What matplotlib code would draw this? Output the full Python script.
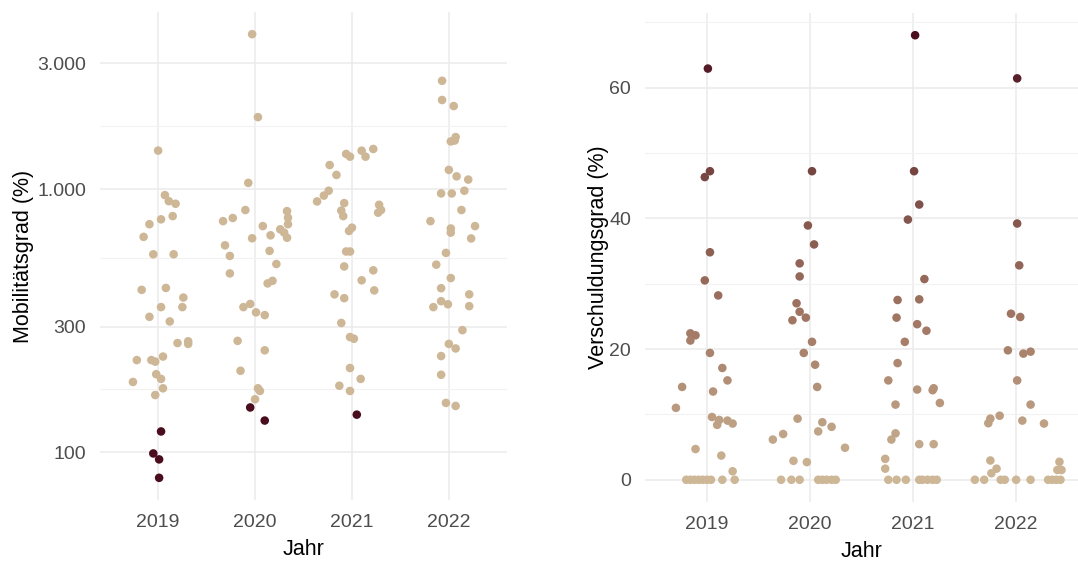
import matplotlib
matplotlib.use("Agg")
import matplotlib.pyplot as plt
import numpy as np
from matplotlib.colors import LinearSegmentedColormap
from matplotlib.ticker import FixedLocator, FuncFormatter

plt.rcParams['font.family'] = ['Liberation Sans', 'DejaVu Sans']

years = [2019, 2020, 2021, 2022]

# Mobilitätsgrad (%) per year: jitter offset, value
mob_2019_dx = [0.00, 0.07, 0.11, 0.18, 0.03, 0.15, -0.09, -0.15, -0.05, 0.16,
               -0.17, 0.08, 0.26, 0.03, 0.25, -0.09, 0.12, 0.20, 0.31, 0.31,
               -0.22, -0.07, -0.03, 0.05, -0.26, -0.02, 0.03, 0.05, -0.03,
               0.03, -0.05, 0.01, 0.01]
mob_2019 = [1399, 948, 899, 879, 767, 789, 735, 658, 565, 565,
            414, 421, 387, 356, 356, 327, 314, 260, 264, 258,
            224, 224, 221, 231, 185, 198, 190, 175, 165,
            120, 99, 94, 80]
mob_2020_dx = [-0.03, 0.03, -0.07, -0.10, -0.33, -0.23, 0.08, -0.03, 0.16,
               0.33, 0.34, 0.34, 0.26, 0.30, 0.33, -0.31, -0.26, 0.15,
               0.22, -0.26, 0.13, 0.18, -0.12, -0.05, 0.01, 0.10, -0.18, 0.10,
               -0.15, 0.03, 0.05, 0.00, -0.05, 0.10]
mob_2020 = [3873, 1875, 1055, 832, 755, 776, 723, 650, 667,
            824, 778, 735, 703, 683, 653, 611, 557, 582,
            519, 478, 438, 448, 356, 366, 340, 332, 265, 244,
            204, 175, 171, 159, 148, 132]
mob_2021_dx = [-0.06, -0.02, 0.10, 0.14, 0.22, -0.23, -0.16, -0.24, -0.29, -0.36,
               -0.08, 0.28, 0.30, 0.27, -0.11, -0.09, 0.00, -0.03, -0.06, -0.02,
               -0.08, 0.22, 0.10, 0.23, -0.18, -0.08, -0.11, -0.02, 0.02, -0.02,
               0.09, -0.13, -0.02, 0.05]
mob_2021 = [1359, 1327, 1398, 1327, 1419, 1233, 1131, 985, 944, 897,
            884, 871, 832, 813, 828, 789, 713, 693, 579, 579,
            508, 491, 450, 412, 398, 385, 310, 274, 270, 209,
            190, 179, 171, 139]
mob_2022_dx = [-0.07, -0.07, 0.05, 0.07, 0.02, 0.06, 0.00, 0.08, 0.20, 0.16,
               -0.08, 0.03, 0.13, -0.19, 0.27, 0.02, 0.02, 0.23, -0.03,
               -0.13, 0.02, -0.08, 0.21, -0.08, -0.01, -0.16, 0.21, 0.14, 0.00, 0.07,
               -0.08, -0.08, -0.03, 0.07]
mob_2022 = [2577, 2178, 2066, 1575, 1516, 1528, 1182, 1117, 1086, 985,
            962, 962, 832, 755, 723, 708, 683, 649, 572,
            516, 459, 420, 398, 375, 365, 356, 359, 291, 258, 248,
            232, 197, 154, 150]

# Verschuldungsgrad (%) per year: jitter offset, value
debt_2019_dx = [0.01, 0.03, -0.02, 0.03, -0.02, 0.11, -0.16, -0.11, -0.16,
                0.03, 0.15, 0.20, -0.24, 0.06, -0.30, 0.05, 0.12, 0.20, 0.10, 0.25,
                -0.11, 0.14, 0.25,
                -0.20, -0.16, -0.12, -0.08, -0.04, 0.00, 0.04, 0.15, 0.27]
debt_2019 = [62.9, 47.2, 46.3, 34.8, 30.5, 28.2, 22.4, 22.1, 21.3,
             19.4, 17.1, 15.2, 14.2, 13.5, 11.0, 9.6, 9.15, 9.05, 8.4, 8.6,
             4.7, 3.7, 1.3,
             0, 0, 0, 0, 0, 0, 0, 0, 0]
debt_2020_dx = [0.02, -0.02, 0.04, -0.10, -0.10, -0.13, -0.10, -0.17, -0.04,
                0.02, -0.06, 0.05, 0.07, -0.12, 0.12, 0.08, 0.21, -0.36, -0.26,
                -0.16, -0.03, 0.34,
                -0.28, -0.18, -0.10, 0.08, 0.12, 0.16, 0.21, 0.25]
debt_2020 = [47.2, 38.9, 36.0, 33.1, 31.1, 27.0, 25.7, 24.4, 24.8,
             21.1, 19.4, 17.6, 14.2, 9.35, 8.8, 7.4, 8.1, 6.15, 7.0,
             2.9, 2.7, 4.9,
             0, 0, 0, 0, 0, 0, 0, 0]
debt_2021_dx = [0.02, 0.01, 0.06, -0.05, 0.11, -0.15, 0.06, -0.16, 0.04, 0.13,
                -0.08, -0.15, -0.24, 0.04, 0.19, 0.20, -0.17, 0.26, -0.17, -0.21,
                0.06, 0.20, -0.27, -0.27,
                -0.24, -0.16, -0.07, 0.06, 0.09, 0.14, 0.19, 0.23]
debt_2021 = [68.0, 47.2, 42.1, 39.8, 30.7, 27.5, 27.6, 24.8, 23.8, 22.8,
             21.1, 17.85, 15.2, 13.8, 13.7, 14.0, 11.5, 11.75, 7.1, 6.15,
             5.45, 5.45, 3.2, 1.7,
             0, 0, 0, 0, 0, 0, 0, 0]
debt_2022_dx = [0.01, 0.01, 0.03, -0.05, 0.04, -0.08, 0.07, 0.14, 0.01, 0.14,
                -0.16, -0.25, -0.27, 0.06, 0.27, -0.25, -0.19, -0.24, 0.42, 0.40, 0.44,
                -0.40, -0.31, -0.15, -0.11, 0.00, 0.14, 0.31, 0.35, 0.39, 0.43]
debt_2022 = [61.4, 39.2, 32.8, 25.4, 24.9, 19.8, 19.3, 19.6, 15.2, 11.5,
             9.8, 9.35, 8.65, 9.05, 8.6, 2.95, 1.7, 1.0, 2.75, 1.5, 1.5,
             0, 0, 0, 0, 0, 0, 0, 0, 0, 0]

mob_x = np.concatenate([y + np.array(d) for y, d in
                        zip(years, [mob_2019_dx, mob_2020_dx, mob_2021_dx, mob_2022_dx])])
mob_v = np.concatenate([mob_2019, mob_2020, mob_2021, mob_2022]).astype(float)
debt_x = np.concatenate([y + np.array(d) for y, d in
                         zip(years, [debt_2019_dx, debt_2020_dx, debt_2021_dx, debt_2022_dx])])
debt_v = np.concatenate([debt_2019, debt_2020, debt_2021, debt_2022]).astype(float)

TAN = '#CDB796'
DARK = '#4A0D1E'
cmap = LinearSegmentedColormap.from_list('tan_maroon', [TAN, '#A47A66', '#7A4A45', DARK])

fig = plt.figure(figsize=(10.78, 5.61), dpi=100)
ax1 = fig.add_axes([100 / 1078, 61 / 561, 407 / 1078, 488 / 561])
ax2 = fig.add_axes([645 / 1078, 59 / 561, 433 / 1078, 489 / 561])

def style(ax):
    for s in ax.spines.values():
        s.set_visible(False)
    ax.set_facecolor('white')
    ax.tick_params(which='both', length=0, labelsize=14, labelcolor='#4D4D4D', pad=10)
    ax.grid(True, which='major', color='#EBEBEB', lw=1.1, zorder=0)
    ax.grid(True, which='minor', axis='y', color='#F2F2F2', lw=0.8, zorder=0)
    ax.set_axisbelow(True)
    ax.set_xlim(2019 - 0.6, 2022 + 0.6)
    ax.set_xticks(years)
    ax.set_xticklabels([str(y) for y in years])
    ax.set_xlabel('Jahr', fontsize=15.5, labelpad=6)

# left panel
style(ax1)
ax1.set_yscale('log')
mob_col = np.where(mob_v < 149, DARK, TAN)
ax1.scatter(mob_x, mob_v, s=38, c=mob_col, linewidths=0, zorder=3)
lo, hi = np.log10(mob_v.min()), np.log10(mob_v.max())
pad = 0.05 * (hi - lo)
ax1.set_ylim(10 ** (lo - pad), 10 ** (hi + pad))
major = [100, 300, 1000, 3000]
ax1.yaxis.set_major_locator(FixedLocator(major))
ax1.yaxis.set_minor_locator(FixedLocator([np.sqrt(a * b) for a, b in zip(major[:-1], major[1:])]))
ax1.yaxis.set_major_formatter(FuncFormatter(lambda v, p: f'{int(round(v)):,}'.replace(',', '.')))
ax1.yaxis.set_minor_formatter(FuncFormatter(lambda v, p: ''))
ax1.set_ylabel('Mobilitätsgrad (%)', fontsize=15.5, labelpad=2)

# right panel
style(ax2)
ax2.scatter(debt_x, debt_v, s=38, c=debt_v, cmap=cmap, vmin=0, vmax=debt_v.max(),
            linewidths=0, zorder=3)
pad = 0.05 * (debt_v.max() - debt_v.min())
ax2.set_ylim(debt_v.min() - pad, debt_v.max() + pad)
ax2.yaxis.set_major_locator(FixedLocator([0, 20, 40, 60]))
ax2.yaxis.set_minor_locator(FixedLocator([10, 30, 50, 70]))
ax2.set_ylabel('Verschuldungsgrad (%)', fontsize=15.5, labelpad=0)

fig.savefig('out.png', dpi=100, facecolor='white')
